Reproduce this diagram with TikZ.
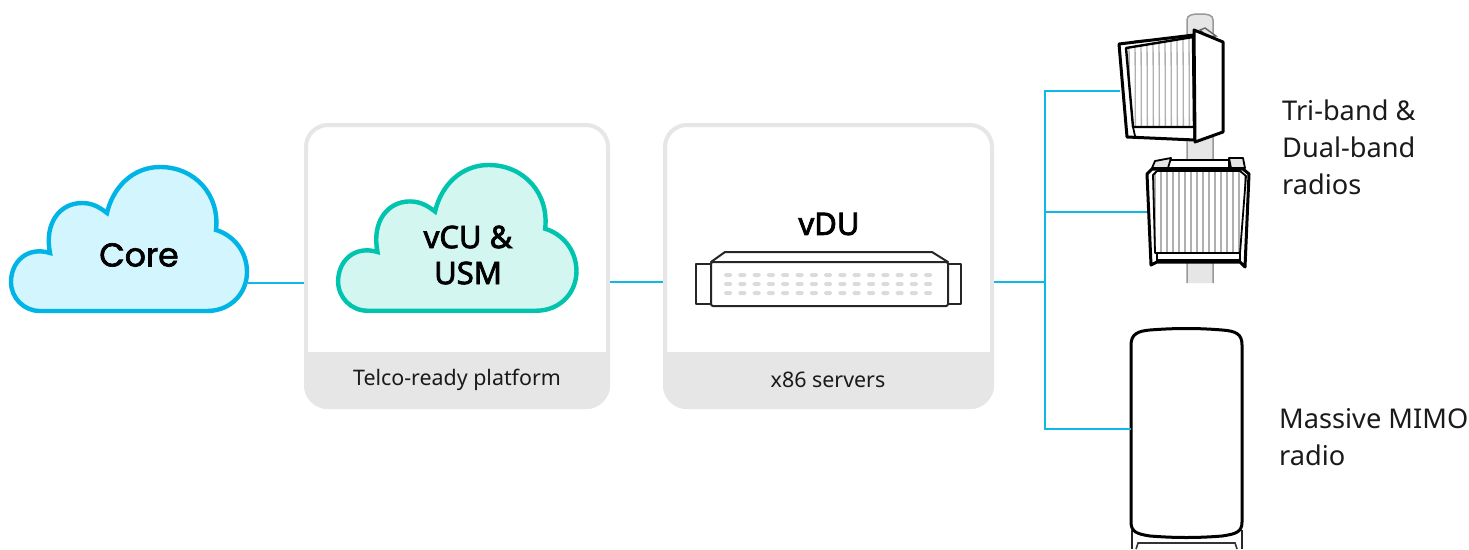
\documentclass[tikz,border=0pt]{standalone}
\usepackage{fontspec}
\setmainfont{Noto Sans}
\newfontfamily\corefont[FakeBold=2]{Poppins}
\newfontfamily\medfont[FakeBold=2.5]{Noto Sans}
\definecolor{linkblue}{HTML}{10B8E8}
\definecolor{coreedge}{HTML}{00B4E6}
\definecolor{corefill}{HTML}{D3F5FD}
\definecolor{vcuedge}{HTML}{00C4AE}
\definecolor{vcufill}{HTML}{D3F6F1}
\definecolor{panelgray}{HTML}{E6E6E6}
\definecolor{inktext}{HTML}{1A1A1A}
\definecolor{fin}{HTML}{B0B0B0}
\tikzset{
  x=1pt,y=-1pt,
  link/.style={draw=linkblue,line width=2.8pt},
  device/.style={draw=black,line width=3pt,line join=round,fill=white},
  thin device/.style={draw=black!85,line width=2pt,line join=round,fill=white},
  finline/.style={draw=fin,line width=1.3pt},
  anchorbox/.style={inner sep=0pt,outer sep=0pt,draw=none},
  panelbox/.style={anchorbox,draw=panelgray,line width=4pt,rounded corners=22pt,minimum height=282pt},
  caption/.style={font=\fontsize{21.4}{24}\selectfont,text=inktext,inner sep=0pt},
  radiolabel/.style={font=\fontsize{27.2}{37}\selectfont,text=inktext,inner sep=0pt,align=left,anchor=west},
  headlabel/.style={font=\fontsize{31}{36}\selectfont\medfont,text=black,inner sep=0pt,align=center},
}
\newcommand{\cloudpath}{
  (40,311) -- (207,311)
  .. controls (231,311) and (247,293) .. (247,272)
  .. controls (247,251) and (233,235) .. (216,230)
  .. controls (220,195) and (195,167) .. (160,167)
  .. controls (133,167) and (113,187) .. (107,213)
  .. controls (98,206) and (91,203) .. (82,203)
  .. controls (60,203) and (44,223) .. (50,253)
  .. controls (27,246) and (11,262) .. (11,282)
  .. controls (11,298) and (24,311) .. (40,311) -- cycle}
\begin{document}
\begin{tikzpicture}
\useasboundingbox (0,0) rectangle (1469,549);
\fill[white] (0,0) rectangle (1469,549);

% panels
\begin{scope}
  \clip[rounded corners=24pt] (304,123) rectangle (610,409);
  \fill[panelgray] (304,352) rectangle (610,409);
\end{scope}
\begin{scope}
  \clip[rounded corners=24pt] (663,123) rectangle (994,409);
  \fill[panelgray] (663,352) rectangle (994,409);
\end{scope}
\node[panelbox,minimum width=302pt] (platform) at (457,266) {};
\node[panelbox,minimum width=327pt] (servers) at (828.5,266) {};
\node[caption] (platformtext) at (457,380) {Telco-ready platform};
\node[caption] (serverstext) at (828,380) {x86 servers};

% clouds
\draw[draw=coreedge,fill=corefill,line width=4.4pt,line join=miter] \cloudpath;
\begin{scope}[shift={(327,-4)},xscale=1.01,yscale=1.012]
  \draw[draw=vcuedge,fill=vcufill,line width=4.4pt] \cloudpath;
\end{scope}
\node[font=\fontsize{33}{36}\selectfont\corefont,text=black,inner sep=0pt] (coretext) at (139,255) {Core};
\node[headlabel] (vcutext) at (468,255) {vCU \&\\USM};
\node[headlabel] (vdutext) at (829,224) {vDU};
\coordinate (coreedgept) at (246,283);
\coordinate (bus) at (1045,282);
\coordinate (bustop) at (1045,91);
\coordinate (busmid) at (1045,212);
\coordinate (busbot) at (1045,429);

% connectors
\draw[link,shorten >=2pt] (coreedgept) -- (platform.west |- coreedgept);
\draw[link,shorten <=2pt,shorten >=2pt] (platform.east |- 0,282) -- (servers.west |- 0,282);
\draw[link,shorten <=2pt] (servers.east |- bus) -- (bus);
\draw[link,line cap=rect] (bustop) -- (busbot);

% server
\draw[thin device,fill=white] (696,264) rectangle (711,304);
\draw[thin device,fill=white] (948,264) rectangle (961,304);
\draw[thin device] (711,262) -- (725,252) -- (932,252) -- (948,262) -- cycle;
\node[anchorbox] (serverbody) at (829.5,284) {};
\draw[thin device,rounded corners=2pt] (711,262) rectangle (948,306);
\foreach \c in {0,...,14} \foreach \r in {275,284,293}
  \fill[black!14,rounded corners=1.5pt] ({728+\c*14.3-4},\r-2) rectangle ({728+\c*14.3+4},\r+2);

% pole
\draw[fill=panelgray,draw=black!40,line width=1.5pt] (1187,283) -- (1187,20) .. controls (1187,15) and (1192,14) .. (1200,14) .. controls (1208,14) and (1213,15) .. (1213,20) -- (1213,283);

% upper radio
\draw[draw=black!60,fill=panelgray,line width=1.4pt] (1132,44) -- (1135,41) -- (1148,40) -- (1153,43) -- cycle;
\draw[draw=black!60,fill=panelgray,line width=1.4pt] (1200,30) -- (1205,28) -- (1216,36) -- (1208,37) -- cycle;
\draw[device] (1119,44) -- (1194,35) -- (1195,140) -- (1127,137) -- cycle;
\begin{scope}
  \clip (1126,48) -- (1193,37) -- (1194,127) -- (1133,127) -- cycle;
  \foreach \x in {1129,1135,...,1194} \draw[finline] (\x,30) -- (\x+0.4,135);
\end{scope}
\draw[draw=black,line width=2.4pt,line join=round] (1126,48) -- (1193,37) -- (1194,127) -- (1133,127) -- cycle;
\draw[draw=black,line width=1.8pt] (1133,127) -- (1135,136);
\draw[device,fill=white] (1194,30) -- (1223,42) -- (1223,132) -- (1195,142) -- cycle;

% lower radio
\draw[draw=black,fill=white,line width=2.2pt,line join=round] (1168,160) -- (1229,160) -- (1229,168) -- (1168,168) -- cycle;
\draw[draw=black,fill=panelgray,line width=1.8pt,line join=round] (1152,168) -- (1155,161) -- (1171,158) -- (1168,168) -- cycle;
\draw[draw=black,fill=panelgray,line width=1.8pt,line join=round] (1229,158) -- (1243,158) -- (1245,168) -- (1231,168) -- cycle;
\draw[device] (1147,174) -- (1152,169) -- (1243,169) -- (1249,174) -- (1245,267) -- (1240,262) -- (1157,262) -- (1151,265) -- cycle;
\begin{scope}
  \clip (1153,175) -- (1157,171) -- (1240,171) -- (1246,176) -- (1240,253) -- (1155,253) -- cycle;
  \foreach \x in {1155,1161,...,1245} \draw[finline] (\x,165) -- (\x,258);
\end{scope}
\draw[draw=black,line width=1.8pt,line join=round] (1153,175) -- (1157,171) -- (1240,171) -- (1246,176) -- (1240,253) -- (1155,253) -- cycle;
\draw[draw=black,line width=1.8pt] (1157,253) -- (1157,260) -- (1240,260) -- (1240,253);

% massive MIMO
\draw[thin device] (1132,530) -- (1132,549);
\draw[thin device] (1242,530) -- (1242,549);
\draw[draw=black!80,line width=1.6pt] (1136,549) -- (1138,543) -- (1235,543) -- (1237,549);
\draw[device] (1131,345) .. controls (1131,334) and (1138,331) .. (1150,330) .. controls (1175,328) and (1198,328) .. (1222,330) .. controls (1236,331) and (1242,334) .. (1242,345) -- (1242,522) .. controls (1242,532) and (1236,534) .. (1222,536) .. controls (1198,538) and (1175,538) .. (1150,536) .. controls (1137,534) and (1131,532) .. (1131,522) -- cycle;

% radio nodes (connector ends)
\node[anchorbox,minimum width=104pt,minimum height=112pt] (radioa) at (1172,91) {};
\node[anchorbox,minimum width=102pt,minimum height=110pt] (radiob) at (1198,212) {};
\node[anchorbox,minimum width=111pt,minimum height=208pt] (radioc) at (1186.5,429) {};
\draw[link] (bustop) -- (radioa.west |- bustop);
\draw[link] (busmid) -- (radiob.west |- busmid);
\draw[link] (busbot) -- (radioc.west |- busbot);

% labels
\node[radiolabel] (tri) at (1282,147) {Tri-band \&\\Dual-band\\radios};
\node[radiolabel] (mimo) at (1279,437) {Massive MIMO\\radio};
\end{tikzpicture}
\end{document}
